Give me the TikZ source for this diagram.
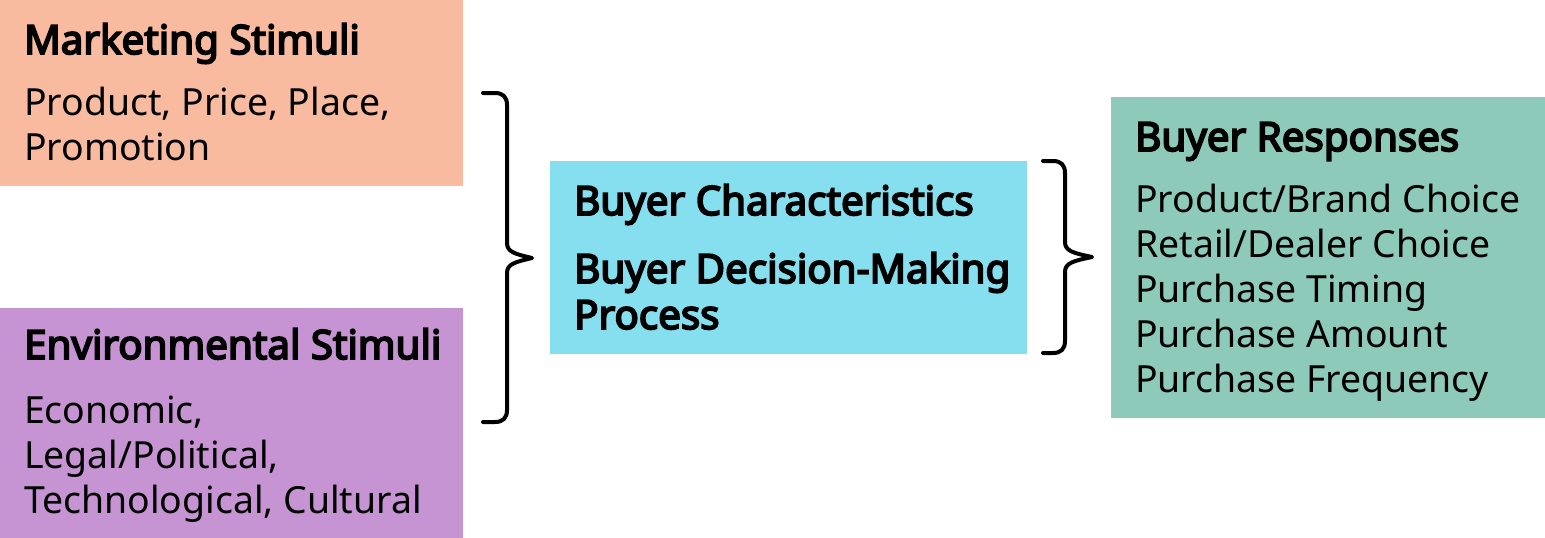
\documentclass[tikz,border=0pt]{standalone}
\usepackage{fontspec}
\setmainfont{Noto Sans}[BoldFont={Noto Sans}, BoldFeatures={FakeBold=4.5}]
\definecolor{cMS}{HTML}{F9BBA0}
\definecolor{cES}{HTML}{C694D2}
\definecolor{cMid}{HTML}{86DFEE}
\definecolor{cResp}{HTML}{8ECAB9}
\newcommand\txtlines[2][45pt]{\vtop{\baselineskip=#1\lineskiplimit=-100pt\lineskip=0pt #2}}
\begin{document}
\begin{tikzpicture}[x=1pt,y=-1pt,
  box/.style={inner sep=0pt, outer sep=0pt, anchor=north west},
  head/.style={anchor=base west, inner sep=0pt, font=\fontsize{40.3}{46}\selectfont\bfseries},
  body/.style={anchor=base west, inner sep=0pt, font=\fontsize{37.4}{45}\selectfont},
  brace/.style={line width=4pt, line cap=round, line join=round}]
\useasboundingbox (0,0) rectangle (1545,538);
% boxes
\node[box, fill=cMS, minimum width=463pt, minimum height=186pt] (ms) at (0,0) {};
\node[box, fill=cES, minimum width=463pt, minimum height=230pt] (es) at (0,308) {};
\node[box, fill=cMid, minimum width=477pt, minimum height=193pt] (mid) at (550,161) {};
\node[box, fill=cResp, minimum width=434pt, minimum height=321pt] (resp) at (1111,97) {};
% texts
\node[head] (msh) at (24,54) {Marketing Stimuli};
\node[body] (msb) at (24,115) {\txtlines{\hbox{Product, Price, Place,}\hbox{Promotion}}};
\node[head] (esh) at (24,359) {Environmental Stimuli};
\node[body] (esb) at (24,423) {\txtlines{\hbox{Economic,}\hbox{Legal/Political,}\hbox{Technological, Cultural}}};
\node[head] (midh) at (574,215) {Buyer Characteristics};
\node[head] (midb) at (574,283) {\txtlines[46pt]{\hbox{Buyer Decision-Making}\hbox{Process}}};
\node[head] (resph) at (1135,151) {Buyer Responses};
\node[body] (respb) at (1135,212) {\txtlines{\hbox{Product/Brand Choice}\hbox{Retail/Dealer Choice}\hbox{Purchase Timing}\hbox{Purchase Amount}\hbox{Purchase Frequency}}};
% braces
\draw[brace] (483,93) -- (495,93) .. controls (503,93) and (507,97) .. (507,105) -- (507,243)
  .. controls (507,252) and (515,254) .. (532,258)
  .. controls (515,262) and (507,264) .. (507,273) -- (507,410)
  .. controls (507,418) and (503,422) .. (495,422) -- (483,422);
\draw[brace] (1043,161) -- (1053,161) .. controls (1061,161) and (1065,165) .. (1065,173) -- (1065,242)
  .. controls (1065,251) and (1073,253) .. (1092,257)
  .. controls (1073,261) and (1065,263) .. (1065,272) -- (1065,341)
  .. controls (1065,349) and (1061,353) .. (1053,353) -- (1043,353);
\end{tikzpicture}
\end{document}
